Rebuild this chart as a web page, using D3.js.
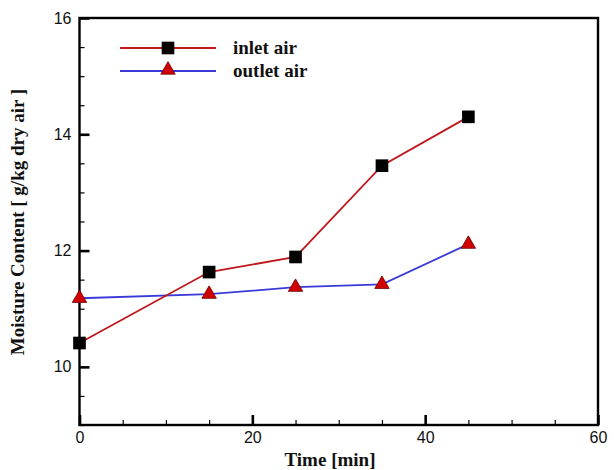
<!DOCTYPE html>
<html><head><meta charset="utf-8">
<script src="https://cdn.jsdelivr.net/npm/d3@7"></script>
<style>body{margin:0;background:#fff}</style>
</head><body>
<svg id="c" width="614" height="470"></svg>
<script>
const times = [0, 15, 25, 35, 45];
const inletAir = [10.41, 11.63, 11.89, 13.46, 14.30];
const outletAir = [11.18, 11.25, 11.37, 11.42, 12.11];
const xTicks = [0, 20, 40, 60];
const yTicks = [10, 12, 14, 16];
const seriesNames = ["inlet air", "outlet air"];

const svg = d3.select("#c");
const L = 79.5, R = 598, T = 18, B = 425;
const x = d3.scaleLinear().domain([0, 60]).range([L, R]);
const y = d3.scaleLinear().domain([9, 16]).range([B, T]);

const xMinor = d3.range(0, 61, 5).filter(v => !xTicks.includes(v));
const yMinor = d3.range(9, 16.01, 0.5).filter(v => !yTicks.includes(v));
const tickFont = "Liberation Sans, Arial, sans-serif";
const serif = "Liberation Serif, Times New Roman, serif";

const gxMin = svg.append("g").attr("transform", `translate(0,${B})`)
  .call(d3.axisBottom(x).tickValues(xMinor).tickSizeInner(-5).tickSizeOuter(0).tickFormat(""));
const gxMaj = svg.append("g").attr("transform", `translate(0,${B})`)
  .call(d3.axisBottom(x).tickValues(xTicks).tickSizeInner(-10).tickSizeOuter(0).tickPadding(7).tickFormat(d3.format("d")));
const gyMin = svg.append("g").attr("transform", `translate(${L},0)`)
  .call(d3.axisLeft(y).tickValues(yMinor).tickSizeInner(-5).tickSizeOuter(0).tickFormat(""));
const gyMaj = svg.append("g").attr("transform", `translate(${L},0)`)
  .call(d3.axisLeft(y).tickValues(yTicks).tickSizeInner(-10).tickSizeOuter(0).tickPadding(8).tickFormat(d3.format("d")));

[gxMin, gxMaj, gyMin, gyMaj].forEach(g => {
  g.select(".domain").remove();
  g.selectAll("line").attr("stroke", "#000").attr("stroke-width", 1.2);
  g.selectAll("text").attr("font-family", tickFont).attr("font-size", 16).attr("fill", "#111");
});
[gxMaj, gyMaj].forEach(g => g.selectAll("line").attr("stroke-width", 2.6));

svg.append("rect").attr("x", L).attr("y", T).attr("width", R - L).attr("height", B - T)
  .attr("fill", "none").attr("stroke", "#000").attr("stroke-width", 2.4);

const inData = times.map((t, i) => [t, inletAir[i]]);
const outData = times.map((t, i) => [t, outletAir[i]]);
const line = d3.line().x(d => x(d[0])).y(d => y(d[1]));

svg.append("path").datum(outData).attr("d", line).attr("fill", "none").attr("stroke", "#3a3ad8").attr("stroke-width", 1.8);
svg.append("path").datum(inData).attr("d", line).attr("fill", "none").attr("stroke", "#c0161c").attr("stroke-width", 1.8);

const tri = d3.symbol().type(d3.symbolTriangle).size(90);
const sq = d3.symbol().type(d3.symbolSquare).size(160);

svg.selectAll(".tri").data(outData).join("path").attr("class", "tri")
  .attr("d", tri).attr("transform", d => `translate(${x(d[0])},${y(d[1])})`)
  .attr("fill", "#d10000").attr("stroke", "#6a0000").attr("stroke-width", 0.8);
svg.selectAll(".sq").data(inData).join("path").attr("class", "sq")
  .attr("d", sq).attr("transform", d => `translate(${x(d[0])},${y(d[1])})`)
  .attr("fill", "#000");

// legend
const leg = svg.append("g");
const legY = [48, 71];
const legColors = ["#c0161c", "#3a3ad8"];
legY.forEach((ly, i) => {
  leg.append("line").attr("x1", 120).attr("x2", 216).attr("y1", ly).attr("y2", ly)
    .attr("stroke", legColors[i]).attr("stroke-width", 1.8);
  if (i === 0) leg.append("path").attr("d", sq).attr("transform", `translate(168,${ly})`).attr("fill", "#000");
  else leg.append("path").attr("d", tri).attr("transform", `translate(168,${ly - 1})`).attr("fill", "#d10000").attr("stroke", "#6a0000").attr("stroke-width", 0.8);
  leg.append("text").attr("x", 233).attr("y", ly + 6).text(seriesNames[i])
    .attr("font-family", serif).attr("font-weight", "bold")
    .attr("font-size", 19).attr("fill", "#111");
});

svg.append("text").attr("x", 330).attr("y", 466).attr("text-anchor", "middle")
  .attr("font-family", serif).attr("font-weight", "bold")
  .attr("font-size", 19).attr("fill", "#111").text("Time [min]");
svg.append("text").attr("transform", `translate(24,222) rotate(-90)`).attr("text-anchor", "middle")
  .attr("font-family", serif).attr("font-weight", "bold")
  .attr("font-size", 19).attr("fill", "#111").text("Moisture Content [ g/kg dry air ]");
</script>
</body></html>
